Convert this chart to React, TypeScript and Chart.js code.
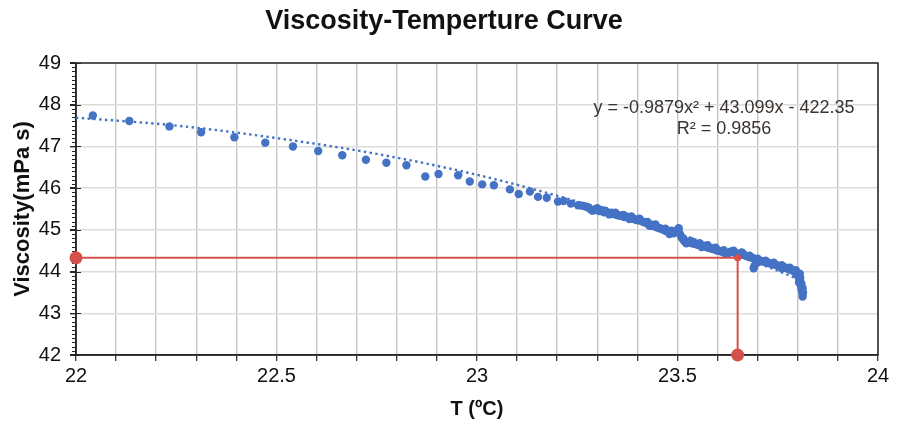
import { useEffect, useRef } from "react";
import { Chart, registerables } from "chart.js";

Chart.register(...registerables);

const chartTitle = "Viscosity-Temperture Curve";
const xAxisTitle = "T (ºC)";
const yAxisTitle = "Viscosity(mPa s)";
const equationLines = ["y = -0.9879x² + 43.099x - 422.35", "R² = 0.9856"];

// Measured points: temperature (°C)
const tempC = [
  22.042, 22.133, 22.233, 22.312, 22.395, 22.472, 22.541, 22.604, 22.664, 22.723,
  22.774, 22.824, 22.871, 22.904, 22.953, 22.982, 23.013, 23.042, 23.082, 23.104,
  23.132, 23.152, 23.174, 23.202, 23.216, 23.234, 23.252,
  23.262, 23.270, 23.276, 23.282, 23.288, 23.294, 23.300, 23.306, 23.311, 23.317,
  23.323, 23.329, 23.335, 23.340, 23.346, 23.351, 23.357, 23.362, 23.367, 23.372,
  23.377, 23.382, 23.387, 23.392, 23.396, 23.401, 23.406, 23.410, 23.415, 23.419,
  23.424, 23.428, 23.433, 23.437, 23.442, 23.446, 23.450, 23.455, 23.459, 23.464,
  23.468, 23.472, 23.477, 23.481, 23.486, 23.490, 23.494, 23.498, 23.502, 23.506,
  23.510, 23.514, 23.518, 23.522, 23.526, 23.530, 23.534, 23.538, 23.542, 23.546,
  23.550, 23.554, 23.558, 23.562, 23.566, 23.570, 23.574, 23.578, 23.582, 23.586,
  23.590, 23.594, 23.598, 23.602, 23.606, 23.610, 23.614, 23.618, 23.622, 23.626,
  23.630, 23.634, 23.638, 23.642, 23.646, 23.650, 23.654, 23.658, 23.662, 23.666,
  23.670, 23.674, 23.678, 23.682, 23.686, 23.690, 23.692, 23.694, 23.698, 23.702,
  23.706, 23.710, 23.714, 23.718, 23.722, 23.726, 23.730, 23.734, 23.738, 23.742,
  23.746, 23.750, 23.754, 23.758, 23.762, 23.766, 23.770, 23.774, 23.778, 23.782,
  23.786, 23.790, 23.794, 23.797, 23.800, 23.802, 23.804, 23.806, 23.807, 23.808,
  23.809, 23.810, 23.811, 23.812, 23.812, 23.806, 23.803, 23.809,
  23.300, 23.320, 23.345, 23.365, 23.385, 23.405, 23.425, 23.445, 23.470, 23.485,
  23.500, 23.503, 23.515, 23.535, 23.555, 23.575, 23.595, 23.615, 23.640, 23.660,
  23.680, 23.700, 23.720, 23.740, 23.760, 23.780, 23.795, 23.805, 23.812, 23.813,
  23.330, 23.380, 23.430, 23.480, 23.560, 23.620, 23.700, 23.760,
];

// Measured points: viscosity (mPa s)
const viscosity = [
  47.74, 47.61, 47.48, 47.34, 47.22, 47.09, 47.00, 46.89, 46.79, 46.68,
  46.61, 46.55, 46.28, 46.34, 46.31, 46.16, 46.09, 46.07, 45.97, 45.86,
  45.92, 45.79, 45.77, 45.68, 45.69, 45.63, 45.59,
  45.58, 45.56, 45.55, 45.50, 45.46, 45.49, 45.47, 45.45, 45.47, 45.42,
  45.43, 45.40, 45.41, 45.38, 45.37, 45.35, 45.34, 45.33, 45.31, 45.32,
  45.30, 45.29, 45.27, 45.26, 45.24, 45.23, 45.24, 45.21, 45.19, 45.18,
  45.16, 45.14, 45.13, 45.10, 45.11, 45.07, 45.06, 45.04, 45.03, 45.01,
  44.99, 44.97, 44.96, 44.94, 44.93, 44.92, 44.95, 44.98, 45.00, 44.90,
  44.82, 44.76, 44.72, 44.68, 44.70, 44.72, 44.69, 44.67, 44.68, 44.66,
  44.64, 44.65, 44.63, 44.61, 44.62, 44.60, 44.58, 44.57, 44.56, 44.55,
  44.54, 44.53, 44.51, 44.50, 44.49, 44.48, 44.47, 44.46, 44.45, 44.44,
  44.46, 44.48, 44.47, 44.46, 44.44, 44.41, 44.39, 44.42, 44.44, 44.40,
  44.38, 44.37, 44.35, 44.34, 44.33, 44.08, 44.14, 44.30, 44.29, 44.27,
  44.26, 44.25, 44.24, 44.23, 44.22, 44.21, 44.20, 44.19, 44.18, 44.17,
  44.16, 44.14, 44.13, 44.12, 44.11, 44.10, 44.09, 44.07, 44.06, 44.05,
  44.03, 44.01, 43.98, 43.95, 43.91, 43.87, 43.82, 43.77, 43.72, 43.67,
  43.62, 43.57, 43.52, 43.46, 43.40, 43.85, 43.74, 43.70,
  45.52, 45.46, 45.41, 45.36, 45.32, 45.27, 45.19, 45.13, 45.03, 44.98,
  44.96, 45.04, 44.79, 44.73, 44.68, 44.63, 44.57, 44.51, 44.50, 44.46,
  44.38, 44.31, 44.26, 44.21, 44.15, 44.09, 44.03, 43.95, 43.60, 43.50,
  45.37, 45.26, 45.10, 44.90, 44.59, 44.42, 44.22, 44.08,
];

// Polynomial trendline
const trendTemp = [22.0, 22.25, 22.5, 22.75, 23.0, 23.25, 23.5, 23.75, 23.81];
const trendVisc = [47.69, 47.5, 47.2, 46.82, 46.32, 45.68, 44.92, 44.02, 43.78];

// Red read-off guide: horizontal at viscosity, vertical at temperature
const guideTemp = [22.0, 23.65, 23.65];
const guideVisc = [44.33, 44.33, 42.0];

const xMin = 22;
const xMax = 24;
const yMin = 42;
const yMax = 49;

const BLUE = "#4472C4";
const RED = "#d6504a";
const FONT = '"Liberation Sans", Arial, sans-serif';

const decorPlugin = {
  id: "decor",
  beforeDatasetsDraw(chart: any) {
    const { ctx, chartArea: a, scales } = chart;
    const y = scales.y;
    ctx.save();
    ctx.strokeStyle = "#262626";
    ctx.lineWidth = 1.5;
    ctx.strokeRect(a.left, a.top, a.right - a.left, a.bottom - a.top);
    ctx.lineWidth = 1.2;
    ctx.beginPath();
    for (let i = 0; i <= (yMax - yMin) * 10; i++) {
      const v = yMin + i / 10;
      const py = Math.round(y.getPixelForValue(v)) + 0.5;
      const major = i % 10 === 0;
      ctx.moveTo(a.left - (major ? 6 : 4), py);
      ctx.lineTo(a.left + (major ? 5 : 0), py);
    }
    ctx.stroke();
    ctx.restore();
  },
  afterDraw(chart: any) {
    const { ctx } = chart;
    ctx.save();
    ctx.fillStyle = "#111";
    ctx.font = `bold 27px ${FONT}`;
    ctx.textAlign = "center";
    ctx.textBaseline = "middle";
    ctx.fillText(chartTitle, 444, 22);
    ctx.fillStyle = "#3a3431";
    ctx.font = `18px ${FONT}`;
    ctx.fillText(equationLines[0], 724, 108);
    ctx.fillText(equationLines[1], 724, 129);
    ctx.restore();
  },
};

export default function App() {
  const ref = useRef<HTMLCanvasElement | null>(null);

  useEffect(() => {
    if (!ref.current) return;
    const points = tempC.map((t, i) => ({ x: t, y: viscosity[i] }));
    const trend = trendTemp.map((t, i) => ({ x: t, y: trendVisc[i] }));
    const guide = guideTemp.map((t, i) => ({ x: t, y: guideVisc[i] }));

    const chart = new Chart(ref.current, {
      type: "scatter",
      data: {
        datasets: [
          {
            label: "guide",
            data: guide,
            showLine: true,
            borderColor: RED,
            borderWidth: 2,
            backgroundColor: RED,
            pointRadius: [6.5, 3.5, 6.5],
            pointBorderWidth: 0,
            clip: false,
          } as any,
          {
            label: "Viscosity",
            data: points,
            backgroundColor: BLUE,
            borderColor: BLUE,
            pointRadius: 4.2,
            pointBorderWidth: 0,
            showLine: false,
          },
          {
            label: "Trend",
            data: trend,
            showLine: true,
            borderColor: BLUE,
            borderWidth: 2.4,
            borderDash: [2.4, 3.4],
            pointRadius: 0,
            cubicInterpolationMode: "monotone",
          } as any,
        ],
      },
      options: {
        animation: false,
        responsive: false,
        layout: { padding: { top: 63, right: 19, left: 0, bottom: 0 } },
        plugins: {
          legend: { display: false },
          tooltip: { enabled: false },
          title: { display: false },
        },
        scales: {
          x: {
            type: "linear",
            min: xMin,
            max: xMax,
            afterFit: (s: any) => {
              s.height = 74;
            },
            border: { display: true, color: "#262626", width: 1.5 },
            grid: {
              color: "#c6c6c6",
              lineWidth: 1.4,
              drawTicks: true,
              tickLength: 6,
              tickColor: "#262626",
              tickWidth: 1.2,
            },
            ticks: {
              stepSize: 0.1,
              autoSkip: false,
              maxRotation: 0,
              padding: 3,
              color: "#111",
              font: { family: FONT, size: 20 },
              callback: (v: any) => {
                const n = Number(v);
                if (Math.abs(n * 2 - Math.round(n * 2)) < 1e-6) {
                  return String(Math.round(n * 2) / 2);
                }
                return "";
              },
            },
            title: {
              display: true,
              text: xAxisTitle,
              color: "#111",
              font: { family: FONT, size: 20, weight: "bold" },
              padding: { top: 0, bottom: 8 },
            },
          },
          y: {
            type: "linear",
            min: yMin,
            max: yMax,
            afterFit: (s: any) => {
              s.width = 76;
            },
            border: { display: true, color: "#262626", width: 1.5 },
            grid: {
              color: "#dcdcdc",
              lineWidth: 1.4,
              drawTicks: true,
              tickLength: 6,
              tickColor: "#262626",
            },
            ticks: {
              stepSize: 1,
              padding: 9,
              color: "#111",
              font: { family: FONT, size: 20 },
            },
            title: {
              display: true,
              text: yAxisTitle,
              color: "#111",
              font: { family: FONT, size: 22, weight: "bold" },
              padding: { top: 10, bottom: 0 },
            },
          },
        },
      },
      plugins: [decorPlugin],
    });
    return () => chart.destroy();
  }, []);

  return (
    <div style={{ position: "fixed", left: 0, top: 0, width: 897, height: 429, background: "#fff" }}>
      <canvas ref={ref} width={897} height={429} style={{ display: "block" }} />
    </div>
  );
}
